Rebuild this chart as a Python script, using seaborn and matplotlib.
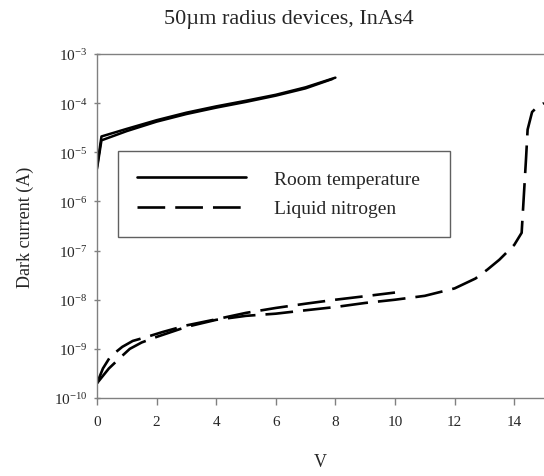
import numpy as np
import pandas as pd
import matplotlib
matplotlib.use("Agg")
import matplotlib.pyplot as plt
import seaborn as sns
from matplotlib.lines import Line2D

# room temperature, two devices
rt_a_v = [0, 0.15, 1, 2, 3, 4, 5, 6, 7, 8]
rt_a_i = [5.0e-6, 2.1e-5, 3.0e-5, 4.5e-5, 6.4e-5, 8.6e-5, 1.12e-4, 1.48e-4, 2.1e-4, 3.3e-4]
rt_b_v = [0, 0.15, 1, 2, 3, 4, 5, 6, 7, 7.9]
rt_b_i = [4.6e-6, 1.75e-5, 2.7e-5, 4.2e-5, 6.0e-5, 8.1e-5, 1.06e-4, 1.42e-4, 2.0e-4, 3.1e-4]

# liquid nitrogen, two devices
ln_a_v = [0, 0.2, 0.45, 0.85, 1.2, 1.6, 2.2, 3, 4, 5, 6, 7, 8, 9, 10]
ln_a_i = [2.0e-10, 4.0e-10, 7.0e-10, 1.1e-9, 1.45e-9, 1.7e-9, 2.2e-9, 3.0e-9,
          4.0e-9, 5.4e-9, 6.8e-9, 8.3e-9, 1.0e-8, 1.18e-8, 1.4e-8]
ln_b_v = [0, 0.4, 0.8, 1.1, 1.5, 2, 3, 4, 5, 6, 7, 8, 9, 10, 11, 12, 12.7, 13.1,
          13.5, 14.0, 14.25, 14.4, 14.45, 14.6, 14.8, 15]
ln_b_i = [2.0e-10, 4.0e-10, 6.8e-10, 1.0e-9, 1.35e-9, 1.75e-9, 2.8e-9, 3.9e-9,
          4.7e-9, 5.2e-9, 6.1e-9, 7.1e-9, 8.6e-9, 1.0e-8, 1.2e-8, 1.7e-8, 2.7e-8,
          4.1e-8, 6.5e-8, 1.3e-7, 2.3e-7, 8.0e-6, 2.9e-5, 6.6e-5, 8.7e-5, 1.0e-4]

labels = ["Room temperature", "Liquid nitrogen"]
x_ticks = [0, 2, 4, 6, 8, 10, 12, 14]

sns.set_style("white")
plt.rcParams["font.family"] = ["Liberation Serif", "DejaVu Serif"]
plt.rcParams["axes.unicode_minus"] = False

fig = plt.figure(figsize=(5.44, 4.77), dpi=100)
ax = fig.add_axes([0.1783, 0.1635, 0.8217, 0.7212])

dashed = (0, (10.5, 3.8))
for v, i in [(rt_a_v, rt_a_i), (rt_b_v, rt_b_i)]:
    sns.lineplot(x=v, y=i, ax=ax, color="black", lw=1.8, estimator=None, sort=False)
for v, i in [(ln_a_v, ln_a_i), (ln_b_v, ln_b_i)]:
    sns.lineplot(x=v, y=i, ax=ax, color="black", lw=1.9, linestyle=dashed,
                 estimator=None, sort=False)

ax.set_yscale("log")
ax.set_ylim(1e-10, 1e-3)
ax.set_xlim(0, 15)
ax.set_xticks(x_ticks)
ax.yaxis.set_minor_locator(matplotlib.ticker.NullLocator())
ax.tick_params(axis="x", labelsize=11, length=5, width=1, color="#808080", direction="out", pad=7)
ax.tick_params(axis="y", labelsize=11, length=4, width=1, color="#808080", direction="inout", pad=5)
ax.tick_params(bottom=True, left=True)

for s in ["left", "bottom", "top"]:
    ax.spines[s].set_color("#808080")
    ax.spines[s].set_linewidth(1)
ax.spines["right"].set_visible(False)

ax.set_xlabel("V", fontsize=13, labelpad=18)
ax.set_ylabel("Dark current (A)", fontsize=13, labelpad=14)
fig.suptitle("50\u00b5m radius devices, InAs4", fontsize=16, x=0.53, y=0.978)

handles = [Line2D([], [], color="black", lw=1.9),
           Line2D([], [], color="black", lw=1.9, linestyle=dashed)]
leg = ax.legend(handles, labels, loc="upper left", bbox_to_anchor=(0.047, 0.456, 0.743, 0.262),
                mode="expand", fontsize=14, handlelength=5.6, handletextpad=1.4,
                borderpad=1.0, labelspacing=0.6, fancybox=False, framealpha=1,
                borderaxespad=0)
leg.get_frame().set_edgecolor("#606060")
leg.get_frame().set_linewidth(1)

fig.savefig("out.png", dpi=100)
